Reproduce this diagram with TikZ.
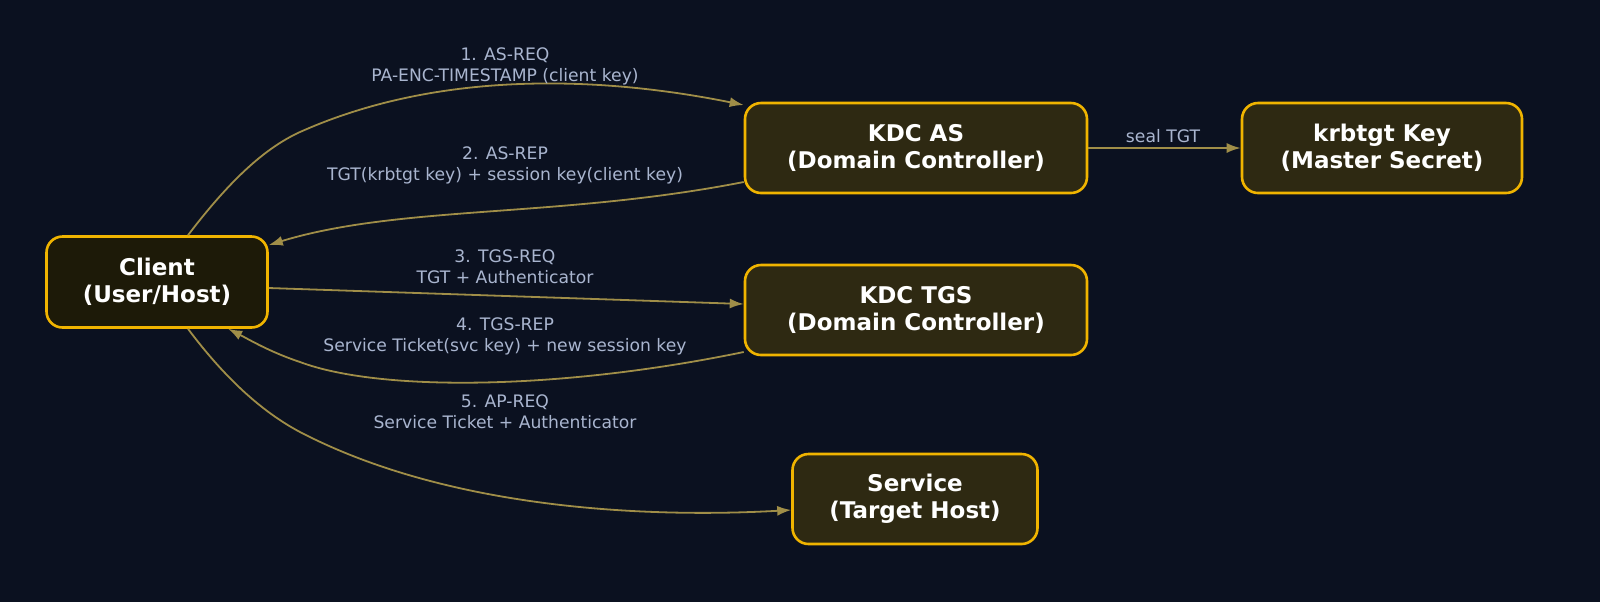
\documentclass[tikz,border=0pt]{standalone}
\usepackage{fontspec}
\setmainfont{DejaVu Sans}
\usetikzlibrary{arrows.meta}
\definecolor{bg}{HTML}{0B1120}
\definecolor{bord}{HTML}{F0B400}
\definecolor{fillA}{HTML}{2E2912}
\definecolor{fillC}{HTML}{1D1A08}
\definecolor{edge}{HTML}{A08E48}
\definecolor{lab}{HTML}{A9B5CF}
\begin{document}
\begin{tikzpicture}[x=0.5pt,y=-0.5pt,
 box/.style={draw=bord,line width=1.3pt,rounded corners=8pt,fill=fillA,text=white,font=\bfseries\fontsize{11.5}{13.5}\selectfont,align=center,inner sep=0pt},
 arr/.style={draw=edge,line width=0.9pt,-{Latex[length=7pt,width=5pt]}},
 lbl/.style={text=lab,font=\fontsize{8.6}{10.5}\selectfont,align=center,inner sep=0pt}]
\useasboundingbox (0,0) rectangle (1600,602);
\fill[bg] (0,0) rectangle (1600,602);
\node[box,fill=fillC,minimum width=110.5pt,minimum height=45.5pt] (client) at (157,282) {Client\\(User/Host)};
\node[box,minimum width=171pt,minimum height=45pt] (as) at (916,148) {KDC AS\\(Domain Controller)};
\node[box,minimum width=140pt,minimum height=45pt] (krb) at (1382,148) {krbtgt Key\\(Master Secret)};
\node[box,minimum width=171pt,minimum height=45pt] (tgs) at (916,310) {KDC TGS\\(Domain Controller)};
\node[box,minimum width=122.5pt,minimum height=45pt] (svc) at (915,499) {Service\\(Target Host)};
\path[arr] ([xshift=15.5pt]client.north) .. controls (230,180) and (265,148) .. (300,132) .. controls (450,65) and (620,80) .. ([yshift=21.5pt]as.west);
\path[arr] ([yshift=-17pt]as.west) .. controls (560,218) and (400,205) .. ([yshift=18.5pt]client.east);
\path[arr] ([yshift=-3pt]client.east) -- ([yshift=3pt]tgs.west);
\path[arr] ([yshift=-21pt]tgs.west) .. controls (560,390) and (380,392) .. (300,362) .. controls (270,352) and (250,340) .. ([xshift=91.5pt]client.south west);
\path[arr] ([xshift=15.5pt]client.south) .. controls (230,385) and (268,415) .. (300,432) .. controls (450,510) and (650,518) .. ([yshift=-5.5pt]svc.west);
\path[arr] (as.east) -- (krb.west);
\node[lbl] (l1) at (505,66) {1. AS-REQ\\PA-ENC-TIMESTAMP (client key)};
\node[lbl] (l2) at (505,165) {2. AS-REP\\TGT(krbtgt key) + session key(client key)};
\node[lbl] (l3) at (505,267) {3. TGS-REQ\\TGT + Authenticator};
\node[lbl] (l4) at (505,336) {4. TGS-REP\\Service Ticket(svc key) + new session key};
\node[lbl] (l5) at (505,412) {5. AP-REQ\\Service Ticket + Authenticator};
\node[lbl] (l6) at (1163,136) {seal TGT};
\end{tikzpicture}
\end{document}
